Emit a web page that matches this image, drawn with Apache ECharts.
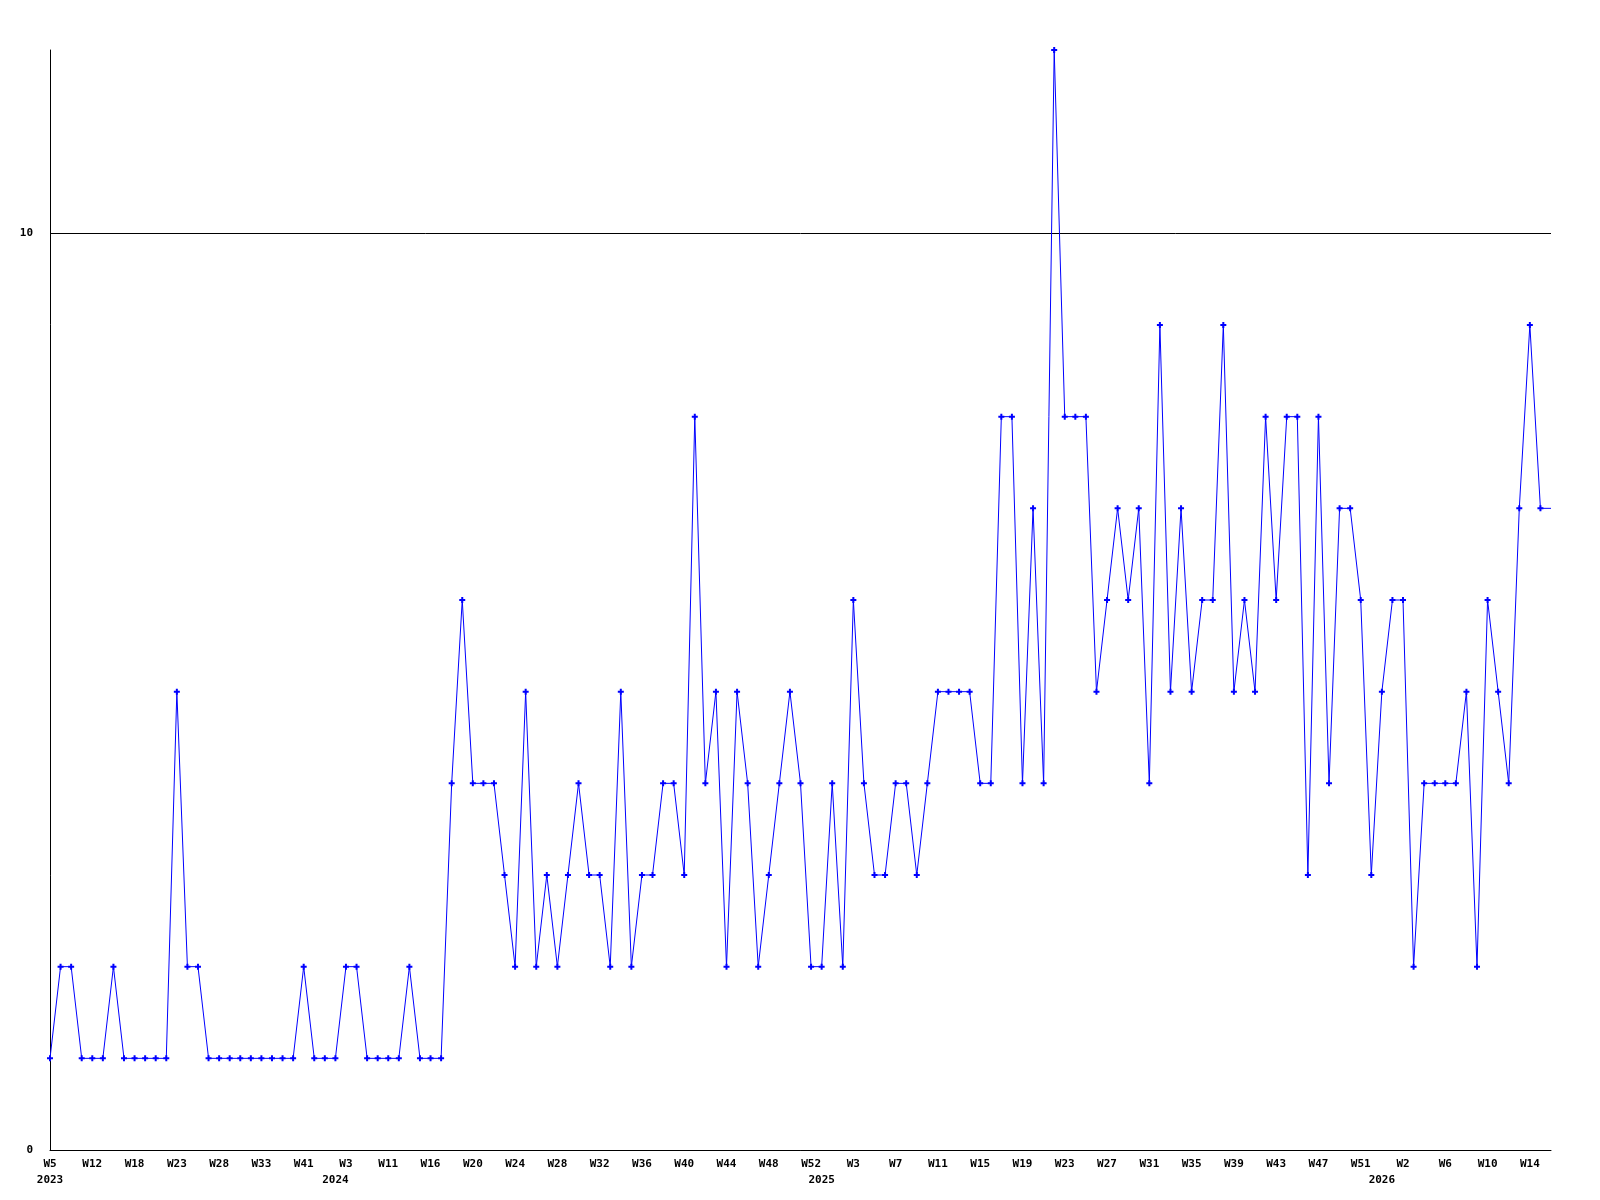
<!DOCTYPE html>
<html>
<head>
<meta charset="utf-8">
<script src="https://cdn.jsdelivr.net/npm/echarts@6/dist/echarts.min.js"></script>
<style>
html,body{margin:0;padding:0;background:#fff;}
#chart{width:1600px;height:1200px;}
</style>
</head>
<body>
<div id="chart"></div>
<script>
const categories = [
  "2023-W5","2023-W7","2023-W9","2023-W10","2023-W12","2023-W13","2023-W15","2023-W16","2023-W18","2023-W19",
  "2023-W20","2023-W22","2023-W23","2023-W24","2023-W25","2023-W27","2023-W28","2023-W29","2023-W30","2023-W32",
  "2023-W33","2023-W35","2023-W37","2023-W39","2023-W41","2023-W44","2023-W49",
  "2024-W1","2024-W3","2024-W5","2024-W7","2024-W9","2024-W11","2024-W12","2024-W14","2024-W15","2024-W16",
  "2024-W17","2024-W18","2024-W19","2024-W20","2024-W21","2024-W22","2024-W23","2024-W24","2024-W25","2024-W26",
  "2024-W27","2024-W28","2024-W29","2024-W30","2024-W31","2024-W32","2024-W33","2024-W34","2024-W35","2024-W36",
  "2024-W37","2024-W38","2024-W39","2024-W40","2024-W41","2024-W42","2024-W43","2024-W44","2024-W45","2024-W46",
  "2024-W47","2024-W48","2024-W49","2024-W50","2024-W51","2024-W52",
  "2025-W0","2025-W1","2025-W2","2025-W3","2025-W4","2025-W5","2025-W6","2025-W7","2025-W8","2025-W9",
  "2025-W10","2025-W11","2025-W12","2025-W13","2025-W14","2025-W15","2025-W16","2025-W17","2025-W18","2025-W19",
  "2025-W20","2025-W21","2025-W22","2025-W23","2025-W24","2025-W25","2025-W26","2025-W27","2025-W28","2025-W29",
  "2025-W30","2025-W31","2025-W32","2025-W33","2025-W34","2025-W35","2025-W36","2025-W37","2025-W38","2025-W39",
  "2025-W40","2025-W41","2025-W42","2025-W43","2025-W44","2025-W45","2025-W46","2025-W47","2025-W48","2025-W49",
  "2025-W50","2025-W51","2025-W52",
  "2026-W0","2026-W1","2026-W2","2026-W3","2026-W4","2026-W5","2026-W6","2026-W7","2026-W8","2026-W9",
  "2026-W10","2026-W11","2026-W12","2026-W13","2026-W14","2026-W15","2026-W16"
];

const values = [
  1,2,2,1,1,1,2,1,1,1,1,1,
  5,2,2,1,1,1,1,1,1,1,1,1,
  2,1,1,1,2,2,1,1,1,1,2,1,1,1,
  4,6,4,4,4,3,2,5,2,3,2,3,
  4,3,3,2,5,2,3,3,4,4,3,8,
  4,5,2,5,4,2,3,4,5,4,2,2,
  4,2,6,4,3,3,4,4,3,4,5,5,5,5,
  4,4,8,8,4,7,4,12,8,8,8,5,
  6,7,6,7,4,9,5,7,5,6,6,9,
  5,6,5,8,6,8,8,3,8,4,7,7,
  6,3,5,6,6,2,4,4,4,4,5,2,
  6,5,4,7,9,7,7
];

const yTicks = [0, 10];
const weekLabelStep = 4;

const weekOf = c => c.split('-')[1];
const yearOf = c => c.split('-')[0];
const yearStart = categories.map((c, i) => i === 0 || yearOf(c) !== yearOf(categories[i - 1]));

const FONT = '"DejaVu Sans Mono", "Liberation Mono", monospace';
const chart = echarts.init(document.getElementById('chart'), null, {renderer: 'canvas'});

const seriesData = values.map((v, i) => i === values.length - 1 ? {value: v, symbol: 'none'} : v);

chart.setOption({
  animation: false,
  backgroundColor: '#ffffff',
  grid: {left: 50, right: 49, top: 50, bottom: 50, containLabel: false},
  xAxis: [
    {
      type: 'category',
      data: categories,
      boundaryGap: false,
      axisLine: {show: true, lineStyle: {color: '#000', width: 1}},
      axisTick: {show: false},
      splitLine: {show: false},
      axisLabel: {
        interval: (i) => i % weekLabelStep === 0,
        formatter: (v) => weekOf(v),
        color: '#000', fontFamily: FONT, fontSize: 11, fontWeight: 'bold',
        margin: 9, hideOverlap: false
      }
    },
    {
      type: 'category',
      data: categories,
      boundaryGap: false,
      position: 'bottom',
      offset: 16,
      axisLine: {show: false},
      axisTick: {show: false},
      splitLine: {show: false},
      axisLabel: {
        interval: (i) => yearStart[i],
        formatter: (v) => yearOf(v),
        color: '#000', fontFamily: FONT, fontSize: 11, fontWeight: 'bold',
        margin: 9, hideOverlap: false
      }
    }
  ],
  yAxis: {
    type: 'value',
    min: yTicks[0],
    max: 12,
    interval: yTicks[1] - yTicks[0],
    axisLine: {show: true, lineStyle: {color: '#000', width: 1}},
    axisTick: {show: false},
    splitLine: {show: true, lineStyle: {color: ['#000000', '#000000', 'rgba(0,0,0,0)'], width: 1}},
    axisLabel: {
      showMaxLabel: false,
      color: '#000', fontFamily: FONT, fontSize: 11, fontWeight: 'bold',
      margin: 17
    }
  },
  series: [{
    type: 'line',
    data: seriesData,
    xAxisIndex: 0,
    symbol: 'path://M2,0H4V2H6V4H4V6H2V4H0V2H2Z',
    symbolSize: 6,
    showAllSymbol: true,
    itemStyle: {color: '#0000ff'},
    lineStyle: {color: '#0000ff', width: 1},
    emphasis: {disabled: true}
  }]
});
</script>
</body>
</html>
